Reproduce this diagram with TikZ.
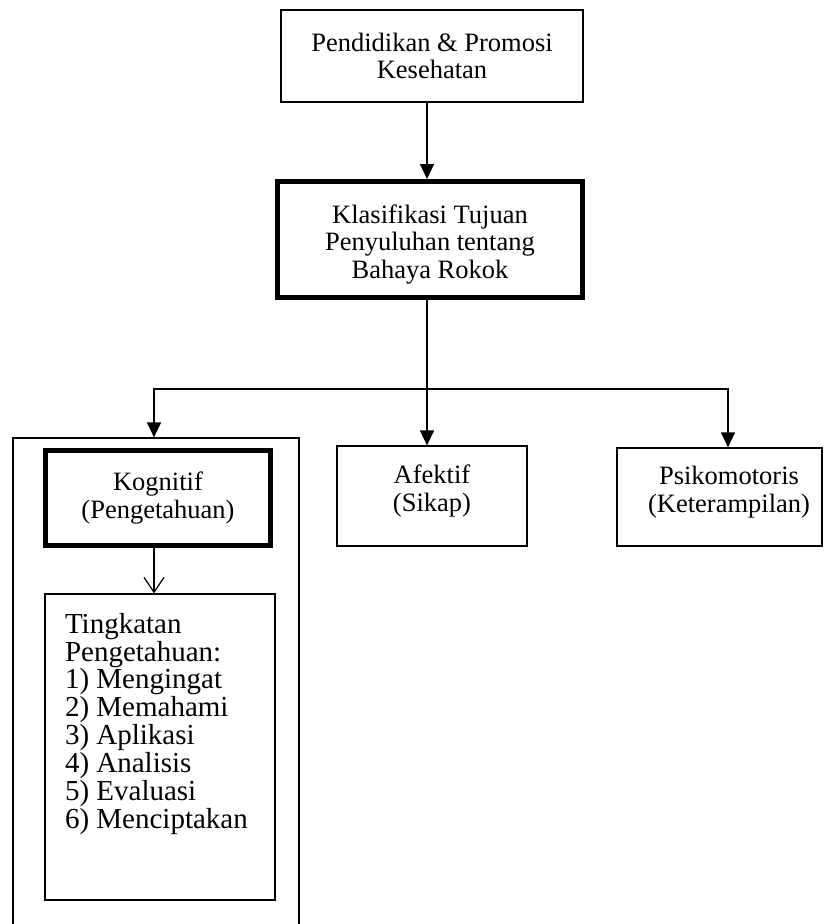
\documentclass[tikz,border=0pt]{standalone}
\usepackage{fontspec}
\setmainfont{Liberation Serif}
\usetikzlibrary{arrows.meta}
\begin{document}
\begin{tikzpicture}[x=1pt,y=-1pt,
  box/.style={draw, line width=1.2pt, inner sep=0pt, align=center,
    font=\fontsize{26.5}{27.5}\selectfont},
  thickbox/.style={box, line width=5pt},
  conn/.style={line width=1.2pt},
  arr/.style={conn, -{Triangle[width=14pt,length=15pt]}},
  darr/.style={conn, {Triangle[width=14pt,length=15pt]}-{Triangle[width=14pt,length=15pt]}},
  barb/.style={conn, -{Straight Barb[width=20pt,length=15pt]}}]
\useasboundingbox (0,0) rectangle (823,924);
% boxes
\node[box, minimum width=302pt, minimum height=92pt] (top) at (432,56)
  {Pendidikan \& Promosi\\Kesehatan};
\node[thickbox, minimum width=305pt, minimum height=116pt] (klas) at (430,239.5)
  {\rule{0pt}{28pt}Klasifikasi Tujuan\\Penyuluhan tentang\\Bahaya Rokok};
\node[box, minimum width=286pt, minimum height=540pt] (grp) at (156,708) {};
\node[thickbox, minimum width=225pt, minimum height=95pt] (kog) at (158,498)
  {Kognitif\\(Pengetahuan)};
\node[box, minimum width=190pt, minimum height=100pt] (afek) at (432,496)
  {Afektif\\(Sikap)\rule[-16pt]{0pt}{0pt}};
\node[box, minimum width=205pt, minimum height=98pt] (psi) at (719.5,497)
  {\hspace*{19pt}\begin{tabular}{@{}c@{}}Psikomotoris\\(Keterampilan)\rule[-16pt]{0pt}{0pt}\end{tabular}};
\node[box, minimum width=230pt, minimum height=306pt] (tk) at (160,747)
  {\parbox[c][268pt][t]{190pt}{\raggedright\fontsize{29}{27.9}\selectfont
   Tingkatan\\Pengetahuan:\\1) Mengingat\\2) Memahami\\3) Aplikasi\\4) Analisis\\5) Evaluasi\\6) Menciptakan}};
% connectors
\coordinate (sp) at (427,0);
\coordinate (kx) at (154,0);
\coordinate (hL) at (154,389);
\coordinate (hR) at (728,389);
\draw[arr] (top.south -| sp) -- (klas.north -| sp);
\draw[arr] (klas.south -| sp) -- (afek.north -| sp);
\draw[darr] (hL |- grp.north) -- (hL) -- (hR) -- (hR |- psi.north);
\draw[barb] (kog.south -| kx) -- (tk.north -| kx);
\end{tikzpicture}
\end{document}
